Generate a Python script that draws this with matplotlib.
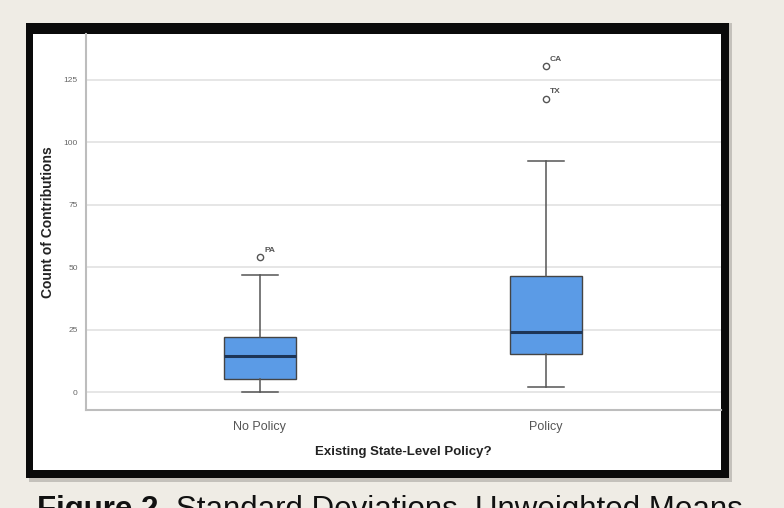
import matplotlib
matplotlib.use("Agg")
import matplotlib.pyplot as plt
from matplotlib.patches import Rectangle

categories = ["No Policy", "Policy"]
whisker_low = [0, 2]
q1 = [5.2, 15.2]
median = [14.4, 24]
q3 = [22, 46.5]
whisker_high = [47, 92.5]
outliers = [[54], [117.5, 130.5]]
outlier_labels = [["PA"], ["TX", "CA"]]
yticks = [0, 25, 50, 75, 100, 125]

W, H = 784, 508
fig = plt.figure(figsize=(W / 100, H / 100), dpi=100)
fig.patch.set_facecolor("#efece5")

def fx(px):
    return px / W

def fy(py):
    return 1 - py / H

# shadow, black frame and white panel
fig.patches.append(Rectangle((fx(29), fy(482)), fx(703), 459 / H, transform=fig.transFigure,
                             facecolor="#c4c1bb", edgecolor="none", zorder=-3))
fig.patches.append(Rectangle((fx(26), fy(478)), fx(703), 455 / H, transform=fig.transFigure,
                             facecolor="#0a0a0a", edgecolor="none", zorder=-2))
fig.patches.append(Rectangle((fx(33), fy(470)), fx(688), 436 / H, transform=fig.transFigure,
                             facecolor="white", edgecolor="none", zorder=-1))

ax = fig.add_axes([fx(86), fy(410), fx(721 - 86), (410 - 34) / H])
ax.set_zorder(2)
ax.set_facecolor("white")

stats = []
for i, c in enumerate(categories):
    stats.append(dict(label=c, whislo=whisker_low[i], q1=q1[i], med=median[i],
                      q3=q3[i], whishi=whisker_high[i], fliers=outliers[i]))

ax.bxp(stats, positions=[0, 1], widths=0.25, patch_artist=True, showfliers=True,
       boxprops=dict(facecolor="#5b9be6", edgecolor="#444444", linewidth=1.0),
       medianprops=dict(color="#1d3557", linewidth=2.2),
       whiskerprops=dict(color="#555555", linewidth=1.1),
       capprops=dict(color="#555555", linewidth=1.1),
       flierprops=dict(marker="o", markersize=4.5, markerfacecolor="white",
                       markeredgecolor="#555555", markeredgewidth=1.0))

narrow = ["Liberation Sans Narrow", "Liberation Sans", "DejaVu Sans"]
for i, (vals, labs) in enumerate(zip(outliers, outlier_labels)):
    for v, l in zip(vals, labs):
        ax.annotate(l, (i, v), xytext=(3, 4), textcoords="offset points",
                    fontsize=6, color="#555555", fontweight="bold", family=narrow)

ax.set_xlim(-0.608, 1.612)
ax.set_ylim(-7.2, 143.4)
ax.set_yticks(yticks)
ax.set_xticks([0, 1])
ax.set_xticklabels(categories)
ax.yaxis.grid(True, color="#e2e2e2", linewidth=1.2)
ax.set_axisbelow(True)
for s in ["top", "right"]:
    ax.spines[s].set_visible(False)
for s in ["left", "bottom"]:
    ax.spines[s].set_color("#bdbdbd")
    ax.spines[s].set_linewidth(1.5)
ax.tick_params(axis="y", length=0, pad=6, labelsize=6, labelcolor="#666666")
ax.tick_params(axis="x", length=0, pad=8, labelsize=9, labelcolor="#555555")
for t in ax.get_xticklabels() + ax.get_yticklabels():
    t.set_family(narrow)

ax.set_ylabel("Count of Contributions", fontsize=10, fontweight="bold", color="#222222",
              family=["Liberation Sans", "DejaVu Sans"], labelpad=6)
ax.set_xlabel("Existing State-Level Policy?", fontsize=9.5, fontweight="bold", color="#222222",
              family=narrow, labelpad=9)

cap_font = ["Liberation Sans", "DejaVu Sans"]
cap_y = fy(495)
t1 = fig.text(fx(37), cap_y, "Figure 2.", fontsize=22.5, fontweight="bold", va="top",
              ha="left", color="#111111", family=cap_font)
fig.canvas.draw()
bb = t1.get_window_extent()
fig.text(bb.x1 / W + fx(9), cap_y, "Standard Deviations, Unweighted Means", fontsize=22.5,
         va="top", ha="left", color="#111111", family=cap_font)

fig.savefig("out.png", dpi=100, facecolor=fig.get_facecolor())
